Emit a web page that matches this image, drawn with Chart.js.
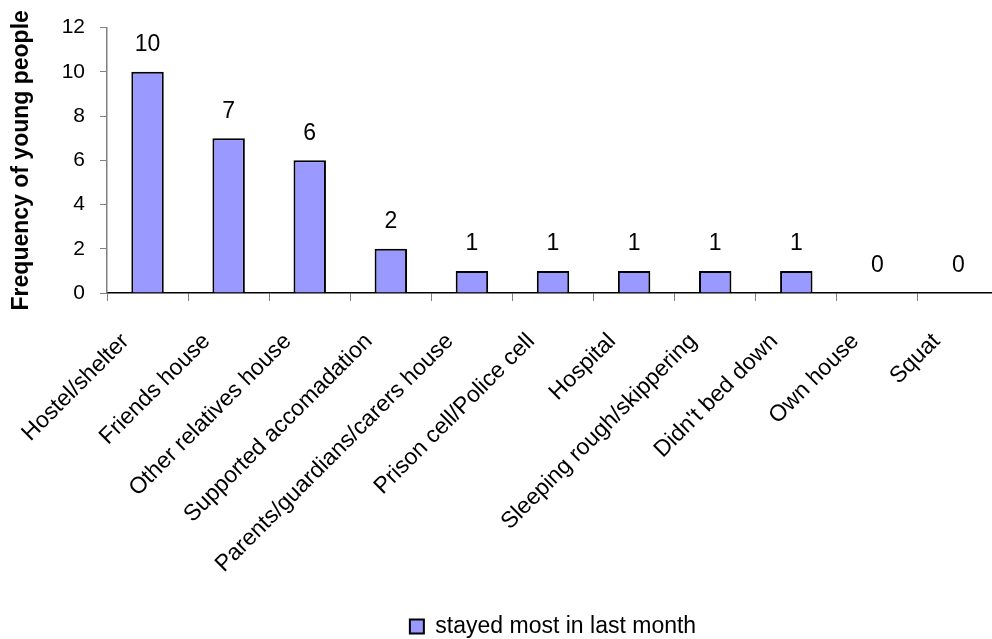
<!DOCTYPE html>
<html>
<head>
<meta charset="utf-8">
<script src="https://cdn.jsdelivr.net/npm/chart.js@4/dist/chart.umd.min.js"></script>
<style>
  html, body { margin: 0; padding: 0; background: #fff; overflow: hidden; }
  #wrap { position: relative; width: 1005px; height: 648px; }
</style>
</head>
<body>
<div id="wrap"><canvas id="c"></canvas></div>
<script>
// Where young people stayed most in the last month
const categories = [
  'Hostel/shelter', 'Friends house', 'Other relatives house',
  'Supported accomadation', 'Parents/guardians/carers house',
  'Prison cell/Police cell', 'Hospital', 'Sleeping rough/skippering',
  "Didn't bed down", 'Own house', 'Squat'
];
const stayedMost = [10, 7, 6, 2, 1, 1, 1, 1, 1, 0, 0];
const seriesName = 'stayed most in last month';
const yTicks = [0, 2, 4, 6, 8, 10, 12];
const yTitle = 'Frequency of young people';

const FONT = "'Liberation Sans', Arial, Helvetica, sans-serif";

// Writes each bar's value above it
const valueLabels = {
  id: 'valueLabels',
  afterDatasetsDraw(chart) {
    const ctx = chart.ctx;
    const meta = chart.getDatasetMeta(0);
    ctx.save();
    ctx.font = '23px ' + FONT;
    ctx.fillStyle = '#000';
    ctx.textAlign = 'center';
    ctx.textBaseline = 'middle';
    meta.data.forEach((bar, i) => {
      ctx.fillText(String(stayedMost[i]), bar.x, bar.y - 27);
    });
    ctx.restore();
  }
};

new Chart(document.getElementById('c'), {
  type: 'bar',
  data: {
    labels: categories,
    datasets: [{
      label: seriesName,
      data: stayedMost,
      backgroundColor: '#9999FF',
      borderColor: '#000000',
      borderWidth: 2,
      barPercentage: 0.4,
      categoryPercentage: 1.0
    }]
  },
  options: {
    responsive: true,
    maintainAspectRatio: false,
    animation: false,
    layout: { padding: { top: 27, left: 0, right: 0, bottom: 0 } },
    plugins: {
      tooltip: { enabled: false },
      legend: {
        position: 'bottom',
        fullSize: false,
        labels: {
          color: '#000',
          font: { family: FONT, size: 23 },
          boxWidth: 14,
          boxHeight: 14,
          padding: 4
        }
      }
    },
    scales: {
      x: {
        grid: { drawOnChartArea: false, tickLength: 8, color: '#808080', offset: true },
        border: { color: '#000', width: 1.5 },
        ticks: {
          color: '#000',
          font: { family: FONT, size: 23 },
          maxRotation: 45,
          minRotation: 45,
          autoSkip: false,
          padding: 27,
          labelOffset: -22
        },
        afterFit(scale) { scale.height = 318; }
      },
      y: {
        min: 0,
        max: 12,
        afterBuildTicks(scale) { scale.ticks = yTicks.map(v => ({ value: v })); },
        grid: { drawOnChartArea: false, tickLength: 7, color: '#808080' },
        border: { color: '#808080', width: 1.5 },
        ticks: {
          color: '#000',
          font: { family: FONT, size: 21 },
          padding: 15
        },
        title: {
          display: true,
          text: yTitle,
          color: '#000',
          font: { family: FONT, size: 23, weight: 'bold' },
          padding: { top: 8, bottom: 0 }
        },
        afterFit(scale) { scale.width = 107; }
      }
    }
  },
  plugins: [valueLabels]
});
</script>
</body>
</html>
